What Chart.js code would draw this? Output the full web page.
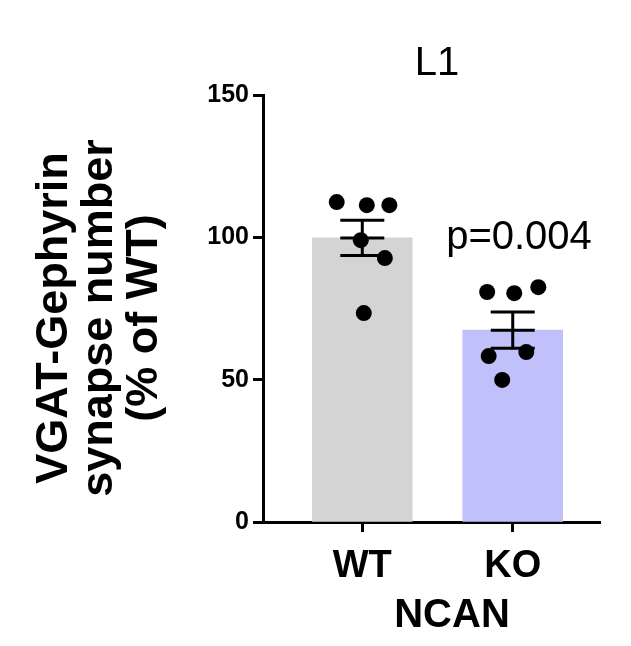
<!DOCTYPE html><html><head><script src="https://cdn.jsdelivr.net/npm/chart.js"></script>
<style>body{margin:0;background:#fff}</style></head><body>
<div style="width:631px;height:646px"><canvas id="c"></canvas></div>
<script>
const categories=['WT','KO'];
const means=[99.8,67.4];
const sems=[6.2,6.4];
const wtPoints=[112.4,111.3,111.3,99.0,92.7,73.4];
const koPoints=[80.8,80.4,82.5,58.3,59.7,49.9];
const jitterWT=[-0.17,0.03,0.18,-0.01,0.15,0.01];
const jitterKO=[-0.17,0.01,0.17,-0.16,0.09,-0.07];
const barColors=['#d4d4d4','#c0c0fa'];
const yTicks=[0,50,100,150];
const F='"Liberation Sans", Arial, sans-serif';
const pts=[...wtPoints.map((v,i)=>({x:0+jitterWT[i],y:v})),...koPoints.map((v,i)=>({x:1+jitterKO[i],y:v}))];
const extras={id:'extras',afterDatasetsDraw(ch){
 const c=ch.ctx,xs=ch.scales.x,ys=ch.scales.y;
 c.save();c.strokeStyle='#000';c.lineWidth=3;
 means.forEach((m,i)=>{const x=xs.getPixelForValue(i),t=ys.getPixelForValue(m+sems[i]),b=ys.getPixelForValue(m-sems[i]),mm=ys.getPixelForValue(m);
  c.beginPath();c.moveTo(x,t);c.lineTo(x,b);c.moveTo(x-22,t);c.lineTo(x+22,t);c.moveTo(x-22,b);c.lineTo(x+22,b);c.moveTo(x-22,mm);c.lineTo(x+22,mm);c.stroke();});
 c.fillStyle='#000';c.textAlign='center';c.textBaseline='middle';
 c.font='40px '+F;c.fillText('L1',437,64);
 c.font='40px '+F;c.fillText('p=0.004',519,238);
 c.font='bold 40px '+F;c.fillText('NCAN',452,616);
 c.font='bold 45px '+F;
 c.translate(100,318);c.rotate(-Math.PI/2);
 c.fillText('VGAT-Gephyrin',0,-45);c.fillText('synapse number',0,0);c.fillText('(% of WT)',0,45);
 c.restore();}};
new Chart(document.getElementById('c'),{
 data:{datasets:[
  {type:'scatter',data:pts,pointRadius:8,pointBackgroundColor:'#000',pointBorderWidth:0,order:0},
  {type:'bar',data:means.map((m,i)=>({x:i,y:m})),backgroundColor:barColors,barThickness:100,grouped:false,order:1}
 ]},
 options:{responsive:true,maintainAspectRatio:false,animation:false,
  layout:{padding:{top:95,right:31,left:0,bottom:0}},
  plugins:{legend:{display:false},tooltip:{enabled:false}},
  scales:{
   x:{type:'linear',offset:false,min:-0.66,max:1.58,afterBuildTicks:s=>{s.ticks=[{value:0},{value:1}]},
    ticks:{callback:v=>categories[v],color:'#000',font:{family:F,size:38,weight:'bold'},maxRotation:0,padding:12},
    grid:{offset:false,drawOnChartArea:false,tickLength:10,tickWidth:3,color:'#000'},border:{width:3,color:'#000'},
    afterFit:s=>{s.height=124}},
   y:{min:0,max:150,afterBuildTicks:s=>{s.ticks=yTicks.map(v=>({value:v}))},
    ticks:{color:'#000',font:{family:F,size:25,weight:'bold'},padding:4},
    grid:{drawOnChartArea:false,tickLength:10,tickWidth:3,color:'#000'},border:{width:3,color:'#000'},
    afterFit:s=>{s.width=263}}
  }},plugins:[extras]});
</script></body></html>
